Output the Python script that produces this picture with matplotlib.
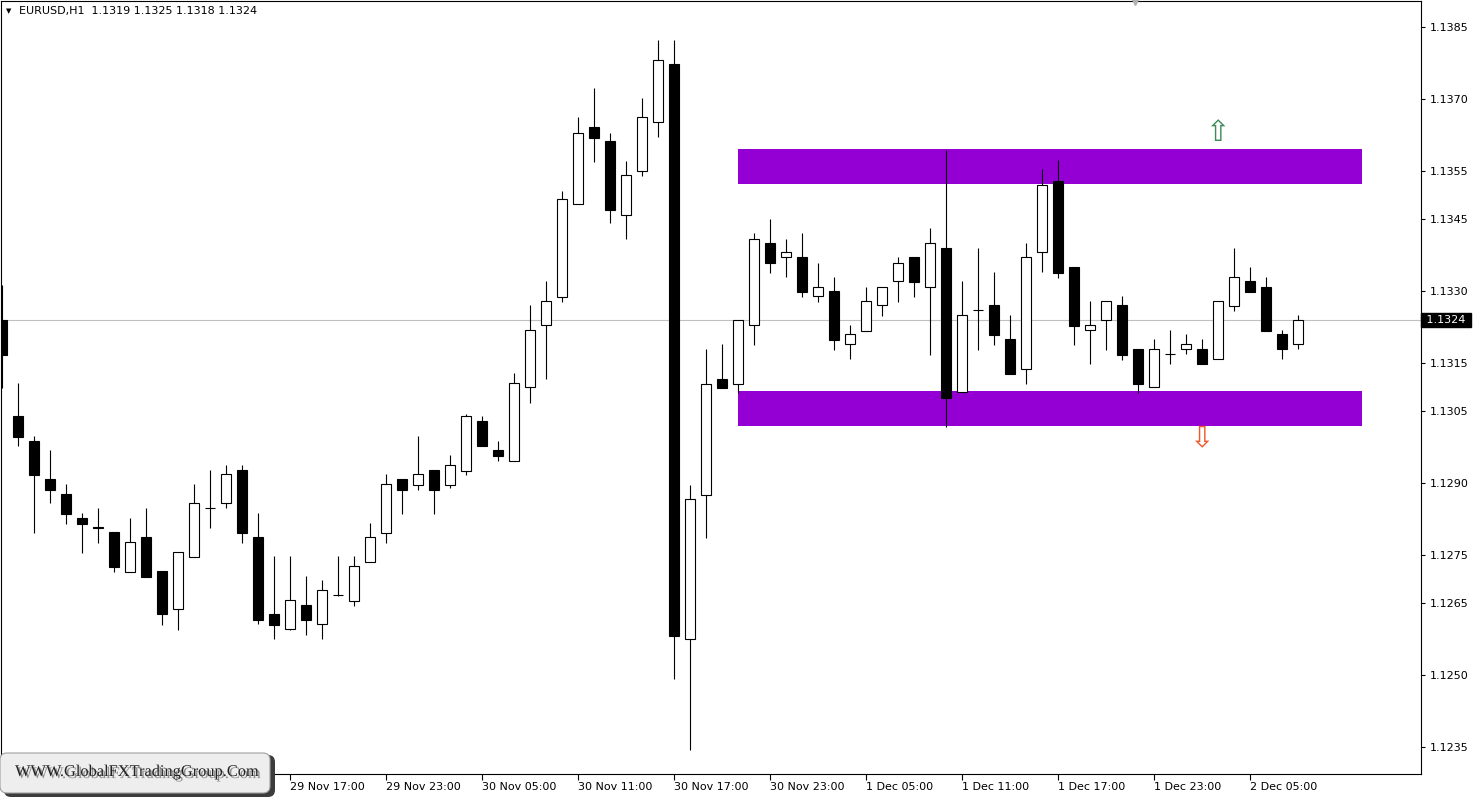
import matplotlib
matplotlib.use("Agg")
import matplotlib.pyplot as plt
import matplotlib.patheffects as pe
from matplotlib.patches import Rectangle, FancyBboxPatch
from matplotlib.transforms import IdentityTransform, blended_transform_factory

W, H = 1478, 798

# EURUSD H1 candles
opens = [1.13240, 1.13040, 1.12988, 1.12908, 1.12877, 1.12827, 1.12808, 1.12798, 1.12715, 1.12788,
         1.12717, 1.12638, 1.12746, 1.12848, 1.12858, 1.12927, 1.12788, 1.12627, 1.12596, 1.12646,
         1.12606, 1.12667, 1.12654, 1.12735, 1.12796, 1.12908, 1.12896, 1.12927, 1.12896, 1.12925,
         1.13029, 1.12969, 1.12946, 1.13100, 1.13229, 1.13288, 1.13481, 1.13642, 1.13613, 1.13460,
         1.13550, 1.13652, 1.13773, 1.12575, 1.12875, 1.13117, 1.13106, 1.13229, 1.13400, 1.13371,
         1.13371, 1.13290, 1.13300, 1.13190, 1.13217, 1.13271, 1.13321, 1.13371, 1.13310, 1.13390,
         1.13090, 1.13260, 1.13271, 1.13200, 1.13138, 1.13381, 1.13531, 1.13350, 1.13219, 1.13240,
         1.13271, 1.13179, 1.13100, 1.13169, 1.13179, 1.13179, 1.13158, 1.13269, 1.13321, 1.13310,
         1.13210, 1.13190]
highs = [1.13313, 1.13108, 1.12998, 1.12969, 1.12898, 1.12838, 1.12848, 1.12798, 1.12827, 1.12848,
         1.12717, 1.12756, 1.12898, 1.12927, 1.12938, 1.12938, 1.12838, 1.12748, 1.12748, 1.12706,
         1.12698, 1.12748, 1.12748, 1.12817, 1.12919, 1.12908, 1.12998, 1.12927, 1.12958, 1.13044,
         1.13040, 1.12988, 1.13129, 1.13271, 1.13321, 1.13510, 1.13663, 1.13723, 1.13631, 1.13571,
         1.13702, 1.13823, 1.13823, 1.12896, 1.13179, 1.13190, 1.13240, 1.13421, 1.13450, 1.13410,
         1.13421, 1.13360, 1.13329, 1.13229, 1.13310, 1.13310, 1.13371, 1.13371, 1.13431, 1.13594,
         1.13321, 1.13390, 1.13340, 1.13250, 1.13400, 1.13554, 1.13573, 1.13350, 1.13279, 1.13279,
         1.13290, 1.13179, 1.13200, 1.13219, 1.13210, 1.13200, 1.13279, 1.13390, 1.13350, 1.13329,
         1.13219, 1.13250]
lows = [1.13098, 1.12977, 1.12796, 1.12858, 1.12815, 1.12754, 1.12775, 1.12715, 1.12715, 1.12704,
        1.12604, 1.12594, 1.12746, 1.12806, 1.12848, 1.12775, 1.12606, 1.12575, 1.12594, 1.12583,
        1.12575, 1.12665, 1.12644, 1.12735, 1.12775, 1.12835, 1.12885, 1.12835, 1.12890, 1.12917,
        1.12977, 1.12946, 1.12946, 1.13067, 1.13117, 1.13277, 1.13481, 1.13569, 1.13442, 1.13410,
        1.13540, 1.13621, 1.12492, 1.12344, 1.12785, 1.13098, 1.13088, 1.13188, 1.13338, 1.13329,
        1.13288, 1.13277, 1.13177, 1.13158, 1.13217, 1.13248, 1.13277, 1.13288, 1.13167, 1.13017,
        1.13090, 1.13177, 1.13188, 1.13127, 1.13106, 1.13340, 1.13327, 1.13188, 1.13148, 1.13177,
        1.13156, 1.13088, 1.13100, 1.13148, 1.13169, 1.13148, 1.13158, 1.13258, 1.13298, 1.13217,
        1.13158, 1.13180]
closes = [1.13167, 1.12996, 1.12917, 1.12885, 1.12835, 1.12815, 1.12807, 1.12725, 1.12777, 1.12704,
          1.12627, 1.12756, 1.12858, 1.12848, 1.12919, 1.12796, 1.12615, 1.12604, 1.12656, 1.12615,
          1.12677, 1.12667, 1.12727, 1.12788, 1.12898, 1.12885, 1.12919, 1.12885, 1.12938, 1.13040,
          1.12977, 1.12956, 1.13108, 1.13219, 1.13279, 1.13492, 1.13631, 1.13619, 1.13469, 1.13542,
          1.13663, 1.13783, 1.12581, 1.12867, 1.13106, 1.13098, 1.13240, 1.13410, 1.13358, 1.13381,
          1.13298, 1.13310, 1.13198, 1.13210, 1.13279, 1.13310, 1.13360, 1.13319, 1.13400, 1.13077,
          1.13250, 1.13260, 1.13208, 1.13127, 1.13371, 1.13521, 1.13338, 1.13227, 1.13229, 1.13279,
          1.13167, 1.13106, 1.13179, 1.13169, 1.13190, 1.13148, 1.13279, 1.13329, 1.13298, 1.13217,
          1.13179, 1.13240]

# time axis labels (bar index -> label)
xtick_idx = [18, 24, 30, 36, 42, 48, 54, 60, 66, 72, 78]
xtick_labels = ["29 Nov 17:00", "29 Nov 23:00", "30 Nov 05:00", "30 Nov 11:00",
                "30 Nov 17:00", "30 Nov 23:00", "1 Dec 05:00", "1 Dec 11:00",
                "1 Dec 17:00", "1 Dec 23:00", "2 Dec 05:00"]
yticks = [1.1385, 1.1370, 1.1355, 1.1345, 1.1330, 1.1315, 1.1305,
          1.1290, 1.1275, 1.1265, 1.1250, 1.1235]

# supply / demand zones: (start bar, end bar, low, high)
zones = [(46, 85, 1.13523, 1.13596),
         (46, 85, 1.13019, 1.13092)]
up_arrow = (75.94, 1.13631)
down_arrow = (74.94, 1.12994)
last_price = 1.1324

fig = plt.figure(figsize=(W / 100, H / 100), dpi=100)
fig.patch.set_facecolor("white")
ax = fig.add_axes([1 / W, 24 / H, 1420 / W, 773.5 / H])
ax.set_xlim(-0.0625, 88.69)
ax.set_ylim(1.1229375, 1.1390625)

for z in zones:
    ax.add_patch(Rectangle((z[0], z[2]), z[1] - z[0], z[3] - z[2],
                           facecolor="#9400d3", edgecolor="none", zorder=1))

ax.axhline(last_price, color="#c0c0c0", lw=0.8, zorder=0.5)

bw = 0.58
for i in range(len(opens)):
    o, h, l, c = opens[i], highs[i], lows[i], closes[i]
    ax.vlines(i, l, h, color="black", lw=0.8, zorder=2)
    fc = "black" if c < o else "white"
    ax.add_patch(Rectangle((i - bw / 2, min(o, c)), bw, abs(c - o),
                           facecolor=fc, edgecolor="black", lw=0.8, zorder=3))

ax.text(up_arrow[0], up_arrow[1], "\u21e7", color="#3c8c5a", fontsize=21,
        ha="center", va="center", zorder=4)
ax.text(down_arrow[0], down_arrow[1], "\u21e9", color="#f05a28", fontsize=21,
        ha="center", va="center", zorder=4)

# axes styling
for s in ax.spines.values():
    s.set_color("black")
    s.set_linewidth(0.8)
ax.yaxis.tick_right()
ax.set_yticks(yticks)
ax.set_yticklabels([f"{v:.4f}" for v in yticks])
ax.set_xticks(xtick_idx)
ax.set_xticklabels(xtick_labels, ha="left")
ax.tick_params(axis="x", direction="out", length=4, width=0.8, pad=2, labelsize=8)
ax.tick_params(axis="y", direction="out", length=3, width=0.8, pad=3, labelsize=8)

trans = blended_transform_factory(ax.transAxes, ax.transData)
ax.text(1.0016, last_price, " 1.1324 ", transform=trans, color="white", fontsize=8,
        ha="left", va="center",
        bbox=dict(boxstyle="square,pad=0.18", facecolor="black", edgecolor="black"))

# chart header
fig.text(6 / W, 1 - 11 / H, "\u25bc", fontsize=5, va="center", ha="left")
fig.text(19 / W, 1 - 11 / H, "EURUSD,H1  1.1319 1.1325 1.1318 1.1324",
         fontsize=8, va="center", ha="left")

# MT4 shift marker at the top
ax.plot([70.8], [1.1390625], marker="v", color="#b0b0b0", markersize=6,
        clip_on=False, zorder=5)

# watermark box bottom-left
idt = IdentityTransform()
fig.add_artist(FancyBboxPatch((4, H - 797), 271, 42,
                              boxstyle="round,pad=0,rounding_size=7",
                              facecolor="#3c3c3c", edgecolor="none",
                              transform=idt, zorder=10))
fig.add_artist(FancyBboxPatch((0, H - 793), 270, 40,
                              boxstyle="round,pad=0,rounding_size=7",
                              facecolor="#eeeeee", edgecolor="#a0a0a0", lw=0.8,
                              transform=idt, zorder=11))
fig.text(15 / W, 1 - 772 / H, "WWW.GlobalFXTradingGroup.Com",
         family="Liberation Serif", fontsize=11.8, color="#222222",
         ha="left", va="center", zorder=12,
         path_effects=[pe.withSimplePatchShadow(offset=(1.5, -1.5),
                                                shadow_rgbFace="#777777", alpha=0.8)])

fig.savefig("out.png", dpi=100, facecolor="white")
